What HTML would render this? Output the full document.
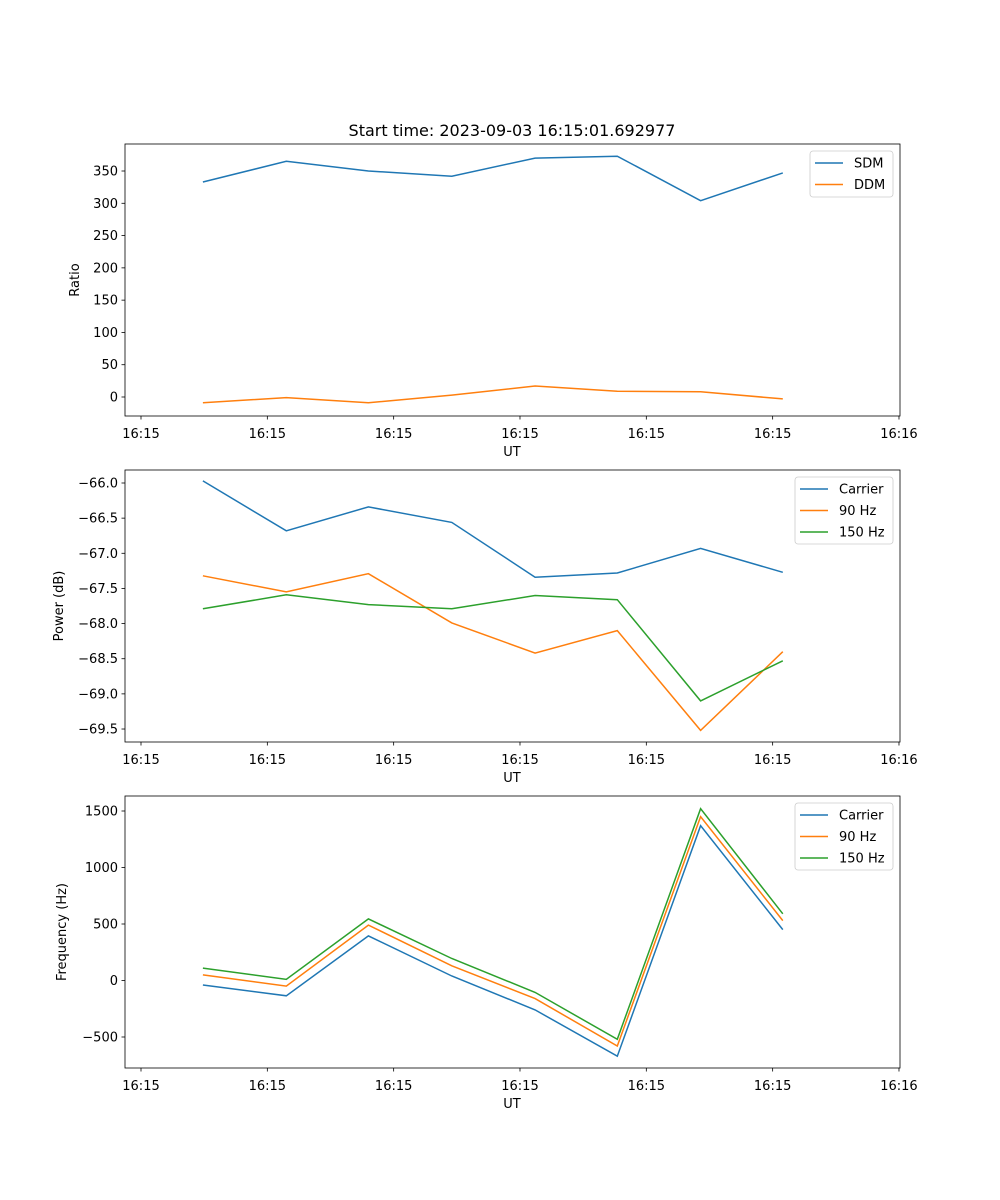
<!DOCTYPE html>
<html><head><meta charset="utf-8"><style>
body{margin:0;background:#fff;}
svg{display:block;font-family:"DejaVu Sans","Liberation Sans",sans-serif;}
</style></head><body>
<svg id="fig" width="1000" height="1200" viewBox="0 0 1000 1200">
<rect width="1000" height="1200" fill="#fff"/>
<text x="512" y="136" font-size="16" text-anchor="middle">Start time: 2023-09-03 16:15:01.692977</text>
</svg>
<script>
const times = [4.9, 11.5, 18.0, 24.6, 31.2, 37.7, 44.3, 50.8];
const xTickVals = [0, 10, 20, 30, 40, 50, 60];
const xTickLabels = ["16:15","16:15","16:15","16:15","16:15","16:15","16:16"];
const sdm = [333, 365, 350, 342, 370, 373, 304, 347];
const ddm = [-9, -1, -9, 3, 17, 9, 8, -3];
const pCarrier = [-65.97, -66.68, -66.34, -66.56, -67.34, -67.28, -66.93, -67.27];
const p90 = [-67.32, -67.55, -67.29, -67.99, -68.42, -68.10, -69.52, -68.40];
const p150 = [-67.79, -67.59, -67.73, -67.79, -67.60, -67.66, -69.10, -68.53];
const fCarrier = [-40, -135, 395, 40, -260, -670, 1370, 450];
const f90 = [50, -50, 490, 130, -160, -580, 1450, 530];
const f150 = [110, 10, 545, 195, -105, -520, 1520, 590];
const yTicks1 = [0, 50, 100, 150, 200, 250, 300, 350];
const yTicks2 = [-66.0, -66.5, -67.0, -67.5, -68.0, -68.5, -69.0, -69.5];
const yTicks3 = [-500, 0, 500, 1000, 1500];

const NS = "http://www.w3.org/2000/svg";
const svg = document.getElementById('fig');
function mk(tag, attrs, parent){const e=document.createElementNS(NS,tag);for(const k in attrs)e.setAttribute(k,attrs[k]);(parent||svg).appendChild(e);return e;}
const xScale = s => 141 + s * 12.633;
const L = 125, R = 900;
const C = ['#1f77b4', '#ff7f0e', '#2ca02c'];
const FS = 13;

function panel(top, bottom, yScale, yTicks, fmt, ylabel, ylx, series, names, legend, key){
  const g = mk('g', {});
  
  
  series.forEach((arr, i) => {
    const pts = arr.map((v, j) => xScale(times[j]).toFixed(1) + ',' + yScale(v).toFixed(1)).join(' ');
    const pl = mk('polyline', {points: pts, fill: 'none', stroke: C[i], 'stroke-width': 1.5}, g);
    
    
  });
  const fr = mk('rect', {x: L, y: top, width: R - L, height: bottom - top, fill: 'none', stroke: '#000', 'stroke-width': 0.8}, g);
  
  
  xTickVals.forEach((v, i) => {
    const x = xScale(v);
    mk('line', {x1: x, x2: x, y1: bottom, y2: bottom + 3.5, stroke: '#000', 'stroke-width': 0.8}, g);
    const t = mk('text', {x: x, y: bottom + 22, 'font-size': FS, 'text-anchor': 'middle'}, g);
    t.textContent = xTickLabels[i];
    
    
  });
  yTicks.forEach(v => {
    const y = yScale(v);
    mk('line', {x1: L - 3.5, x2: L, y1: y, y2: y, stroke: '#000', 'stroke-width': 0.8}, g);
    const t = mk('text', {x: L - 7, y: y + 4.5, 'font-size': FS, 'text-anchor': 'end'}, g);
    t.textContent = fmt(v);
    
    
  });
  const xl = mk('text', {x: 512, y: bottom + 40, 'font-size': FS, 'text-anchor': 'middle'}, g);
  xl.textContent = 'UT';
  
  
  const cy = (top + bottom) / 2;
  const yl = mk('text', {x: ylx, y: cy, 'font-size': FS, 'text-anchor': 'middle', transform: 'rotate(-90 ' + ylx + ' ' + cy + ')'}, g);
  yl.textContent = ylabel;
  
  
  const lg = mk('g', {}, g);
  
  
  mk('rect', {x: legend.x, y: top + 7, width: 893 - legend.x, height: 21 * names.length + 4, rx: 3, fill: '#fff', 'fill-opacity': 0.8, stroke: '#ccc', 'stroke-width': 0.8}, lg);
  names.forEach((n, i) => {
    const y = top + 19 + i * 21.5;
    mk('line', {x1: legend.x + 5, x2: legend.x + 33, y1: y, y2: y, stroke: C[i], 'stroke-width': 1.5}, lg);
    const t = mk('text', {x: legend.x + 44, y: y + 4.5, 'font-size': FS}, lg);
    t.textContent = n;
    
    
  });
}

panel(144, 416, v => 397 - v * 0.6457, yTicks1, v => String(v), 'Ratio', 79, [sdm, ddm], ['SDM', 'DDM'], {x: 810}, 'ratio');
panel(470, 742, v => 483 - (v + 66) * 70.29, yTicks2, v => (v < 0 ? '\u2212' : '') + Math.abs(v).toFixed(1), 'Power (dB)', 63, [pCarrier, p90, p150], ['Carrier', '90 Hz', '150 Hz'], {x: 795}, 'power');
panel(796, 1068, v => 980.5 - v * 0.113, yTicks3, v => (v < 0 ? '\u2212' : '') + Math.abs(v), 'Frequency (Hz)', 66, [fCarrier, f90, f150], ['Carrier', '90 Hz', '150 Hz'], {x: 795}, 'frequency');
</script>
</body></html>
